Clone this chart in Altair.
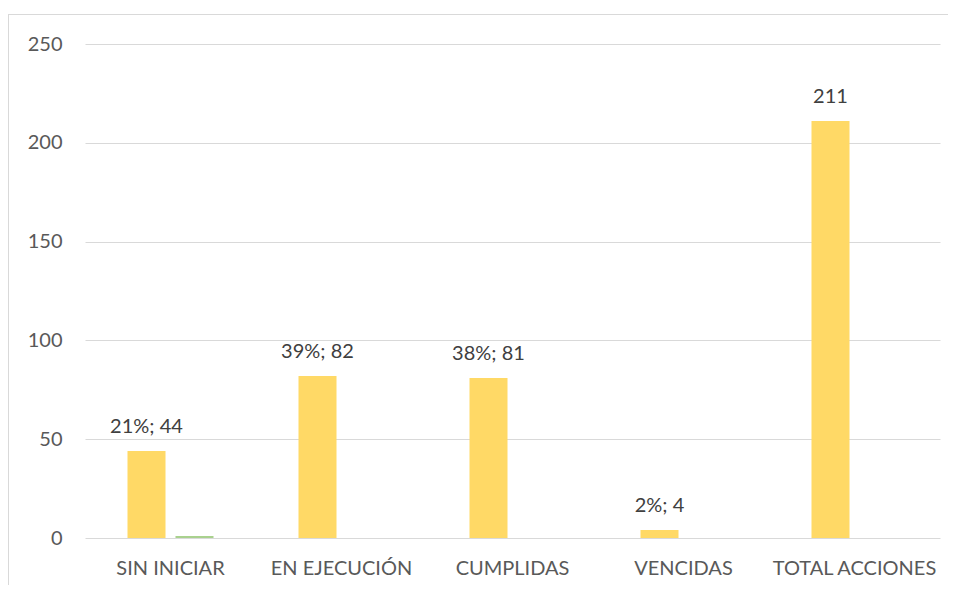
import altair as alt
import pandas as pd

categories = ["SIN INICIAR", "EN EJECUCIÓN", "CUMPLIDAS", "VENCIDAS", "TOTAL ACCIONES"]
series_a = [44, 82, 81, 4, 211]
labels_a = ["21%; 44", "39%; 82", "38%; 81", "2%; 4", "211"]
series_b = [1, 0, 0, 0, 0]
series_names = ["A", "B"]

rows = []
for c, v, l in zip(categories, series_a, labels_a):
    rows.append({"cat": c, "serie": "A", "value": v, "label": l})
for c, v in zip(categories, series_b):
    rows.append({"cat": c, "serie": "B", "value": v, "label": ""})
df = pd.DataFrame(rows)

FONT = "Lato"

x_enc = alt.X("cat:N", sort=categories,
              scale=alt.Scale(paddingInner=0.497, paddingOuter=0.2485),
              axis=alt.Axis(title=None, labelAngle=0, ticks=False, domain=False,
                            labelFont=FONT, labelFontSize=20, labelColor="#595959",
                            labelPadding=20, labelBaseline="top"))
xo_enc = alt.XOffset("serie:N", sort=series_names,
                     scale=alt.Scale(paddingInner=0.208, paddingOuter=0))
y_enc = alt.Y("value:Q", scale=alt.Scale(domain=[0, 250], nice=False),
              axis=alt.Axis(title=None, values=[0, 50, 100, 150, 200, 250],
                            domain=False, ticks=False, gridColor="#D9D9D9",
                            gridWidth=1, labelFont=FONT, labelFontSize=20,
                            labelColor="#595959", labelPadding=23))

base = alt.Chart(df)

bars = base.mark_bar().encode(
    x=x_enc, xOffset=xo_enc, y=y_enc,
    color=alt.Color("serie:N", sort=series_names,
                    scale=alt.Scale(domain=series_names, range=["#FFD966", "#A9D18E"]),
                    legend=None),
)

text = base.mark_text(baseline="alphabetic", dy=-18, font=FONT, fontSize=20,
                      color="#404040").encode(
    x=alt.X("cat:N", sort=categories), xOffset=alt.XOffset("serie:N", sort=series_names),
    y="value:Q", text="label:N",
)

frame_df = pd.DataFrame({"k": [0]})
top_line = alt.Chart(frame_df).mark_rule(color="#D9D9D9", strokeWidth=1).encode(
    x=alt.value(-77), x2=alt.value(900), y=alt.value(-29.5))
left_line = alt.Chart(frame_df).mark_rule(color="#D9D9D9", strokeWidth=1).encode(
    x=alt.value(-76.5), y=alt.value(-30), y2=alt.value(600))

chart = alt.layer(bars, text, top_line, left_line).properties(
    width=855, height=494,
    autosize=alt.AutoSizeParams(type="none"),
    padding={"left": 77, "top": 36, "right": 8, "bottom": 47},
    background="white",
).configure_view(stroke=None)

chart.save("out.html", embed_options={"renderer": "svg", "actions": False})
